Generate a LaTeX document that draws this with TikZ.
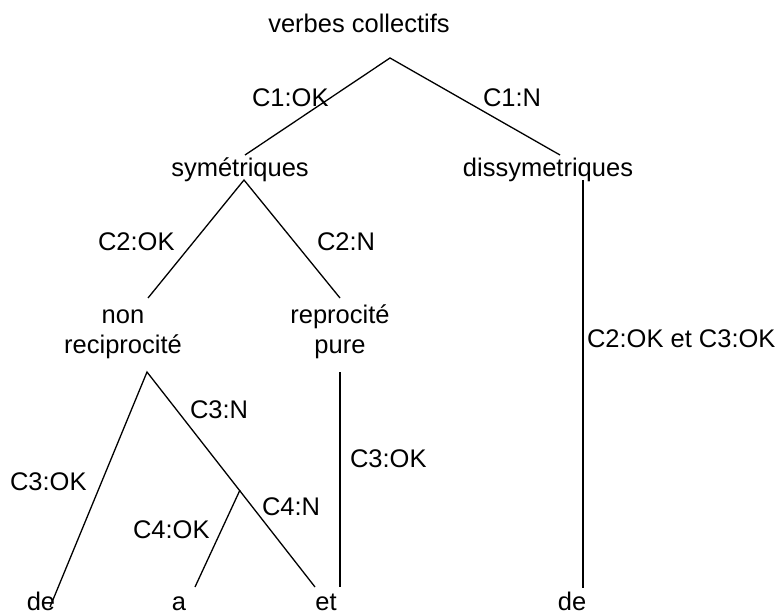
\documentclass[tikz,border=0pt]{standalone}
\usepackage{fontspec}
\setmainfont{Liberation Sans}
\begin{document}
\begin{tikzpicture}[x=1pt,y=-1pt,
  txt/.style={font=\fontsize{25.5}{30}\selectfont, inner sep=0pt, outer sep=0pt},
  term/.style={txt, anchor=base},
  elabel/.style={txt, anchor=base west},
  branch/.style={line width=1.3pt, black}]
\useasboundingbox (0,0) rectangle (777,615);
% terms
\node[term] (vc)   at (359,33)  {verbes collectifs};
\node[term] (sym)  at (240,177) {symétriques};
\node[term] (dis)  at (548,177) {dissymetriques};
\node[term] (non1) at (123,323) {non};
\node[term] (non2) at (123,353) {reciprocité};
\node[term] (rep1) at (340,323) {reprocité};
\node[term] (rep2) at (340,353) {pure};
\node[term] (de1)  at (41,610)  {de};
\node[term] (a)    at (179,610) {a};
\node[term] (et)   at (326,610) {et};
\node[term] (de2)  at (572,610) {de};
% connector ends
\coordinate (vcS)  at (390,58);
\coordinate (symN) at (245,155);
\coordinate (disN) at (560,155);
\coordinate (symS) at (244,180);
\coordinate (nonN) at (148,298);
\coordinate (repN) at (340,298);
\coordinate (nonS) at (147,372);
\coordinate (de1N) at (50,607);
\coordinate (etN)  at (315,587);
\coordinate (br)   at (240,490);
\coordinate (aN)   at (195,587);
\coordinate (repS) at (340,372);
\coordinate (repE) at (340,587);
\coordinate (disS) at (583,180);
\coordinate (de2N) at (583,588);
% connectors
\draw[branch] (symN) -- (vcS) -- (disN);
\draw[branch] (nonN) -- (symS) -- (repN);
\draw[branch] (de1N) -- (nonS) -- (etN);
\draw[branch] (br) -- (aN);
\draw[branch] (repS) -- (repE);
\draw[branch] (disS) -- (de2N);
% edge labels
\node[elabel] (l1) at (252,107) {C1:OK};
\node[elabel] (l2) at (483,107) {C1:N};
\node[elabel] (l3) at (98,250)  {C2:OK};
\node[elabel] (l4) at (317,250) {C2:N};
\node[elabel] (l5) at (190,418) {C3:N};
\node[elabel] (l6) at (10,490)  {C3:OK};
\node[elabel] (l7) at (262,515) {C4:N};
\node[elabel] (l8) at (133,538) {C4:OK};
\node[elabel] (l9) at (350,467) {C3:OK};
\node[elabel] (l10) at (587,347) {C2:OK et C3:OK};
\end{tikzpicture}
\end{document}
